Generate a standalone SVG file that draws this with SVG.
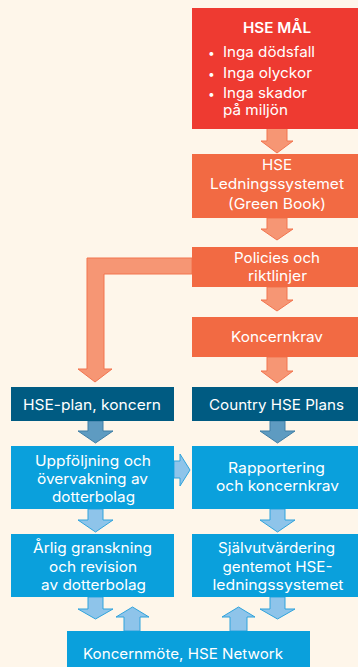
<svg xmlns="http://www.w3.org/2000/svg" width="358" height="667" viewBox="0 0 358 667">
<style>
.bg{fill:#FEF6EA}
.red{fill:#EE3A31}
.org{fill:#F26A43}
.dark{fill:#005B82}
.lb{fill:#0AA0DC}
.t{font-family:Inter,"Open Sans","Liberation Sans",sans-serif;font-size:14.5px;fill:#ffffff;text-anchor:middle}
.tl{text-anchor:start}
.bu{font-size:12px}
.b{font-weight:600}
.ao{fill:#F69674;stroke:#F2744F;stroke-width:1}
.ad{fill:#5E9BC1;stroke:#3F7EA6;stroke-width:1}
.al{fill:#8EC4EA;stroke:#2FA3DC;stroke-width:1}
</style>
<rect class="bg" x="0" y="0" width="358" height="667"/>
<g id="connectors">
<polygon class="ao" points="267,128 287,128 287,141 293,141 277,153 261,141 267,141"/>
<polygon class="ao" points="267,218 287,218 287,229 293,229 277,240 261,229 267,229"/>
<polygon class="ao" points="267,287 287,287 287,300 293,300 277,311 261,300 267,300"/>
<polygon class="ao" points="267,357 287,357 287,371 293,371 277,383 261,371 267,371"/>
<polygon class="ao" points="192,258 87,258 87,369 78,369 95,382 112,369 104,369 104,274 192,274"/>
<polygon class="ad" points="88,421 103,421 103,431 113,431 95.5,443 78,431 88,431"/>
<polygon class="ad" points="270,421 285,421 285,431 295,431 277.5,443 260,431 270,431"/>
<polygon class="al" points="174,461 180,461 180,454 190,470 180,486 180,478 174,478"/>
<polygon class="al" points="88,509 103,509 103,520 113,520 95.5,532 78,520 88,520"/>
<polygon class="al" points="270,509 285,509 285,520 295,520 277.5,532 260,520 270,520"/>
<polygon class="al" points="88,597 103,597 103,609 113,609 95.5,619 78,609 88,609"/>
<polygon class="al" points="270,597 285,597 285,609 295,609 277.5,619 260,609 270,609"/>
<polygon class="al" points="124,631 140,631 140,617 149,617 132.5,607 116,617 124,617"/>
<polygon class="al" points="230,631 247,631 247,617 255,617 238.5,607 222,617 230,617"/>
</g>
<g id="hse-mal">
<rect class="red" x="192" y="8" width="166" height="121"/>
<text class="t b" x="277" y="33" textLength="68" lengthAdjust="spacingAndGlyphs">HSE MÅL</text>
<text class="t tl bu" x="208" y="57">•</text>
<text class="t tl" x="223" y="57" textLength="92" lengthAdjust="spacingAndGlyphs">Inga dödsfall</text>
<text class="t tl bu" x="208" y="78">•</text>
<text class="t tl" x="223" y="78" textLength="89" lengthAdjust="spacingAndGlyphs">Inga olyckor</text>
<text class="t tl bu" x="208" y="98">•</text>
<text class="t tl" x="223" y="98" textLength="84" lengthAdjust="spacingAndGlyphs">Inga skador</text>
<text class="t tl" x="223" y="115" textLength="65" lengthAdjust="spacingAndGlyphs">på miljön</text>
</g>
<g id="ledningssystemet">
<rect class="org" x="192" y="154" width="166" height="64"/>
<text class="t" x="277" y="170" textLength="30" lengthAdjust="spacingAndGlyphs">HSE</text>
<text class="t" x="277" y="189" textLength="134" lengthAdjust="spacingAndGlyphs">Ledningssystemet</text>
<text class="t" x="277" y="209" textLength="98" lengthAdjust="spacingAndGlyphs">(Green Book)</text>
</g>
<g id="policies">
<rect class="org" x="192" y="247" width="166" height="40"/>
<text class="t" x="277" y="263" textLength="86" lengthAdjust="spacingAndGlyphs">Policies och</text>
<text class="t" x="277.5" y="281" textLength="59" lengthAdjust="spacingAndGlyphs">riktlinjer</text>
</g>
<g id="koncernkrav">
<rect class="org" x="192" y="317" width="166" height="40"/>
<text class="t" x="277" y="342" textLength="92" lengthAdjust="spacingAndGlyphs">Koncernkrav</text>
</g>
<g id="hse-plan">
<rect class="dark" x="11" y="387" width="163" height="34"/>
<text class="t" x="92" y="410" textLength="138" lengthAdjust="spacingAndGlyphs">HSE-plan, koncern</text>
</g>
<g id="country">
<rect class="dark" x="192" y="387" width="166" height="34"/>
<text class="t" x="276.5" y="410" textLength="135" lengthAdjust="spacingAndGlyphs">Country HSE Plans</text>
</g>
<g id="uppfoljning">
<rect class="lb" x="11" y="446" width="163" height="63"/>
<text class="t" x="93" y="466" textLength="116" lengthAdjust="spacingAndGlyphs">Uppföljning och</text>
<text class="t" x="92.5" y="484" textLength="111" lengthAdjust="spacingAndGlyphs">övervakning av</text>
<text class="t" x="93.5" y="502" textLength="83" lengthAdjust="spacingAndGlyphs">dotterbolag</text>
</g>
<g id="rapportering">
<rect class="lb" x="192" y="446" width="166" height="63"/>
<text class="t" x="276.5" y="473" textLength="97" lengthAdjust="spacingAndGlyphs">Rapportering</text>
<text class="t" x="277.5" y="491" textLength="123" lengthAdjust="spacingAndGlyphs">och koncernkrav</text>
</g>
<g id="arlig">
<rect class="lb" x="11" y="534" width="163" height="63"/>
<text class="t" x="92.5" y="553" textLength="119" lengthAdjust="spacingAndGlyphs">Årlig granskning</text>
<text class="t" x="93" y="572" textLength="88" lengthAdjust="spacingAndGlyphs">och revision</text>
<text class="t" x="93.5" y="590" textLength="105" lengthAdjust="spacingAndGlyphs">av dotterbolag</text>
</g>
<g id="sjalvutvardering">
<rect class="lb" x="192" y="534" width="166" height="63"/>
<text class="t" x="276.5" y="553" textLength="117" lengthAdjust="spacingAndGlyphs">Självutvärdering</text>
<text class="t" x="277.5" y="572" textLength="110" lengthAdjust="spacingAndGlyphs">gentemot HSE-</text>
<text class="t" x="278" y="590" textLength="131" lengthAdjust="spacingAndGlyphs">ledningssystemet</text>
</g>
<g id="koncernmote">
<rect class="lb" x="67" y="631" width="243" height="36"/>
<text class="t" x="183" y="659" textLength="200" lengthAdjust="spacingAndGlyphs">Koncernmöte, HSE Network</text>
</g>
</svg>
